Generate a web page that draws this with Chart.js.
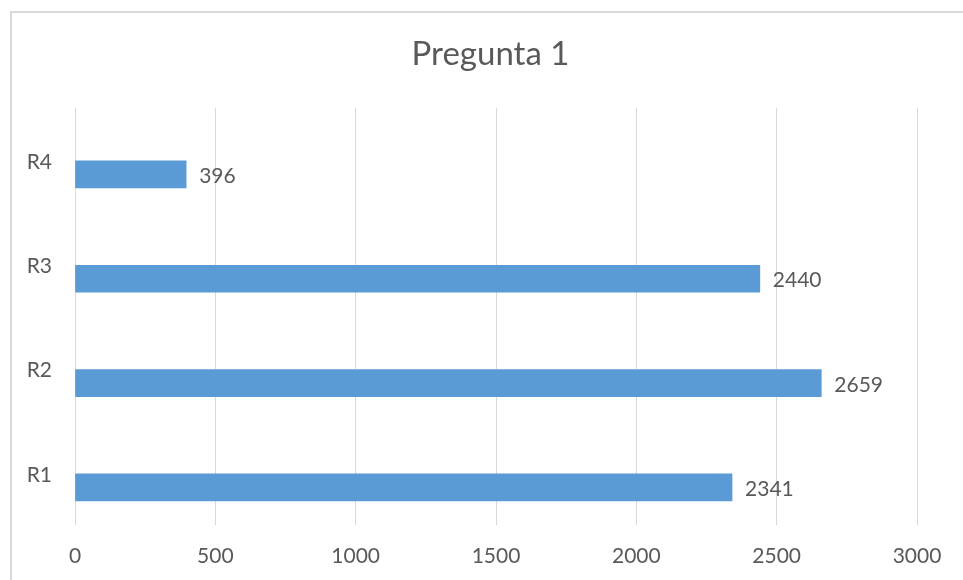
<!DOCTYPE html>
<html>
<head>
<meta charset="utf-8">
<script src="https://cdn.jsdelivr.net/npm/chart.js@4/dist/chart.umd.min.js"></script>
<style>
html,body{margin:0;padding:0;background:#fff;}
#wrap{position:relative;width:963px;height:580px;}
</style>
</head>
<body>
<div id="wrap"><canvas id="c" width="963" height="580"></canvas></div>
<script>
const titleText = "Pregunta 1";
const categories = ["R1", "R2", "R3", "R4"];
const values = [2341, 2659, 2440, 396];
const xTicks = [0, 500, 1000, 1500, 2000, 2500, 3000];

const FONT = "Lato, 'Open Sans', sans-serif";
const TXT = "#595959";

const borderPlugin = {
  id: 'frame',
  beforeDraw(chart) {
    const ctx = chart.ctx;
    ctx.save();
    ctx.fillStyle = '#fff';
    ctx.fillRect(0, 0, chart.width, chart.height);
    ctx.strokeStyle = '#d9d9d9';
    ctx.lineWidth = 2;
    ctx.beginPath();
    ctx.moveTo(11, chart.height + 5);
    ctx.lineTo(11, 12);
    ctx.lineTo(chart.width + 5, 12);
    ctx.stroke();
    ctx.restore();
  }
};

const labelPlugin = {
  id: 'valueLabels',
  afterDatasetsDraw(chart) {
    const ctx = chart.ctx;
    const meta = chart.getDatasetMeta(0);
    ctx.save();
    ctx.font = "21px " + FONT;
    ctx.fillStyle = TXT;
    ctx.textAlign = 'left';
    ctx.textBaseline = 'middle';
    meta.data.forEach((bar, i) => {
      ctx.fillText(String(values[i]), bar.x + 13, bar.y + 2);
    });
    ctx.restore();
  }
};

new Chart(document.getElementById('c'), {
  type: 'bar',
  data: {
    labels: categories,
    datasets: [{
      data: values.map((v, i) => ({ x: v, y: i })),
      yAxisID: 'yb',
      backgroundColor: '#5b9bd5',
      borderColor: '#5b9bd5',
      borderWidth: 0,
      barThickness: 27
    }]
  },
  plugins: [borderPlugin, labelPlugin],
  options: {
    indexAxis: 'y',
    responsive: false,
    animation: false,
    devicePixelRatio: 1,
    layout: { padding: { left: 18, right: 0, top: 0, bottom: 0 } },
    plugins: {
      legend: { display: false },
      tooltip: { enabled: false },
      title: {
        display: true,
        text: titleText,
        color: TXT,
        font: { family: FONT, size: 33, weight: 'normal' },
        padding: { top: 35, bottom: 33 }
      }
    },
    scales: {
      x: {
        min: 0,
        max: 3000,
        afterBuildTicks(scale) { scale.ticks = xTicks.map(v => ({ value: v })); },
        grid: { color: '#d9d9d9', lineWidth: 1, drawTicks: false },
        border: { display: false },
        ticks: {
          color: TXT,
          font: { family: FONT, size: 21 },
          padding: 19,
          callback: (v) => String(v)
        },
        afterFit(scale) { scale.height = 55; }
      },
      y: {
        type: 'category',
        labels: categories,
        reverse: true,
        position: 'left',
        grid: { display: false, drawTicks: false },
        border: { display: false },
        ticks: { color: TXT, font: { family: FONT, size: 21 }, padding: 23, labelOffset: 2 },
        afterFit(scale) { scale.width = 57; }
      },
      yr: {
        type: 'category',
        labels: categories,
        position: 'right',
        display: true,
        grid: { display: false },
        border: { display: false },
        ticks: { display: false },
        afterFit(scale) { scale.width = 46; }
      },
      yb: {
        type: 'linear',
        display: false,
        offset: false,
        min: -0.36,
        max: 3.64
      }
    }
  }
});
</script>
</body>
</html>
